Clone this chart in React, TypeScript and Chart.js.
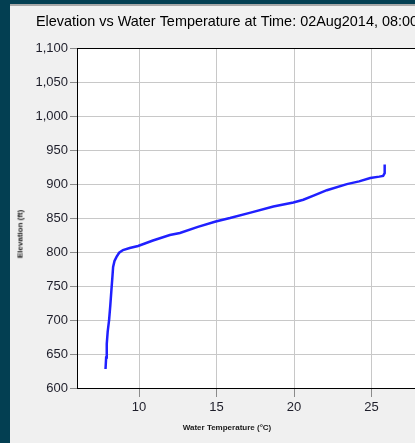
import React, { useEffect, useRef } from "react";
import { Chart, registerables } from "chart.js";

Chart.register(...registerables);

const titleText = "Elevation vs Water Temperature at Time: 02Aug2014, 08:00";
const xTitle = "Water Temperature (°C)";
const yTitle = "Elevation (ft)";

const temps = [7.84, 7.88, 7.92, 7.98, 8.07, 8.15, 8.22, 8.28, 8.33, 8.42, 8.55, 8.72, 8.97, 9.4, 9.94, 10.9, 11.99, 12.64, 13.8, 14.95, 15.87, 17.2, 18.67, 19.96, 20.6, 21.26, 22.12, 23.41, 24.2, 24.92, 25.5, 25.75, 25.85, 25.85];
const elevations = [628, 645, 665, 683, 700, 722, 744, 762, 778, 787, 793, 799, 803, 806, 809, 817, 825, 828, 837, 845, 850, 858, 867, 873, 877, 883, 891, 900, 904, 909, 911, 912, 916, 929];

const xTicks = [10, 15, 20, 25];
const xMin = 6;
const xMax = 28;
const yMin = 600;
const yMax = 1100;
const yStep = 50;

const TEAL = "#033f52";
const PANEL = "#f0f0f0";
const TEXT = "#1e1e2a";

const chartAreaBg = {
  id: "chartAreaBg",
  beforeDraw(chart: any) {
    const { ctx, chartArea } = chart;
    if (!chartArea) return;
    ctx.save();
    ctx.fillStyle = "#ffffff";
    ctx.fillRect(chartArea.left, chartArea.top, chartArea.right - chartArea.left, chartArea.bottom - chartArea.top);
    ctx.restore();
  },
};

export default function App() {
  const ref = useRef<HTMLCanvasElement | null>(null);

  useEffect(() => {
    if (!ref.current) return;
    const chart = new Chart(ref.current, {
      type: "line",
      data: {
        datasets: [
          {
            data: temps.map((t, i) => ({ x: t, y: elevations[i] })),
            borderColor: "#2020ff",
            borderWidth: 2.5,
            pointRadius: 0,
            tension: 0,
            fill: false,
          },
        ],
      },
      options: {
        animation: false,
        responsive: false,
        layout: { padding: { left: 26, right: 52, top: 0, bottom: 0 } },
        plugins: {
          legend: { display: false },
          tooltip: { enabled: false },
          title: {
            display: true,
            text: titleText,
            align: "start",
            color: "#000",
            font: { family: "'Liberation Sans', Arial, sans-serif", size: 14.8, weight: "normal", lineHeight: 1.2 },
            padding: { top: 7, bottom: 17.4 },
          },
        },
        scales: {
          x: {
            type: "linear",
            min: xMin,
            max: xMax,
            afterBuildTicks: (scale: any) => {
              scale.ticks = xTicks.map((v) => ({ value: v }));
            },
            afterFit: (scale: any) => {
              scale.height = 55;
            },
            border: { color: "#000", width: 1 },
            grid: { color: "#c8c8c8", tickColor: "#8a8a8a", tickLength: 9, lineWidth: 1 },
            ticks: {
              autoSkip: false,
              maxRotation: 0,
              padding: 3,
              color: TEXT,
              font: { family: "'Liberation Sans', Arial, sans-serif", size: 13 },
            },
          },
          y: {
            type: "linear",
            min: yMin,
            max: yMax,
            afterFit: (scale: any) => {
              scale.width = 41;
            },
            border: { color: "#000", width: 1 },
            grid: {
              color: (c: any) => (c.tick && c.tick.value === yMax ? "#000" : "#c8c8c8"),
              tickColor: "#8a8a8a",
              tickLength: 7,
              lineWidth: 1,
            },
            ticks: {
              stepSize: yStep,
              padding: 2,
              color: TEXT,
              font: { family: "'Liberation Sans', Arial, sans-serif", size: 13 },
            },
          },
        },
      },
      plugins: [chartAreaBg],
    } as any);
    return () => chart.destroy();
  }, []);

  return (
    <div style={{ position: "fixed", left: 0, top: 0, width: 415, height: 443, background: TEAL, overflow: "hidden" }}>
      <div
        style={{
          position: "absolute",
          left: 10,
          top: 4,
          width: 470,
          height: 445,
          background: PANEL,
          borderTop: "2px solid #a8a8a8",
        }}
      />
      <canvas
        ref={ref}
        width={460}
        height={437}
        style={{ position: "absolute", left: 10, top: 6, width: 460, height: 437 }}
      />
      <div
        style={{
          position: "absolute",
          left: 227,
          top: 427,
          transform: "translate(-50%, -50%)",
          whiteSpace: "nowrap",
          fontFamily: "'Liberation Sans', Arial, sans-serif",
          fontSize: 8,
          fontWeight: "bold",
          color: "#1a1a1a",
        }}
      >
        {xTitle}
      </div>
      <div
        style={{
          position: "absolute",
          left: 20,
          top: 234,
          transform: "translate(-50%, -50%) rotate(-90deg)",
          whiteSpace: "nowrap",
          fontFamily: "'Liberation Sans', Arial, sans-serif",
          fontSize: 8,
          fontWeight: "bold",
          color: "#1a1a1a",
        }}
      >
        {yTitle}
      </div>
    </div>
  );
}
